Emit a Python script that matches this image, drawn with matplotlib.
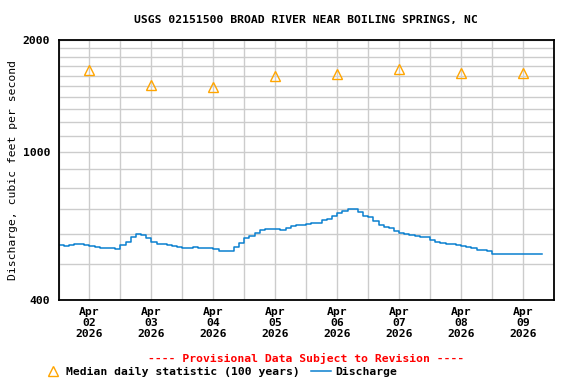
import matplotlib
matplotlib.use('Agg')
import matplotlib.pyplot as plt
from matplotlib.lines import Line2D

plt.rc('font', family='DejaVu Sans Mono', weight='bold', size=8.2)

# discharge, hours after Apr 02 00:00
hours = [0, 2, 4, 6, 8, 10, 12, 14, 16, 18, 20, 22,
         24, 26, 28, 30, 32, 34, 36, 38, 40, 42, 44, 46,
         48, 50, 52, 54, 56, 58, 60, 62, 64, 66, 68, 70,
         72, 74, 76, 78, 80, 82, 84, 86, 88, 90, 92, 94,
         96, 98, 100, 102, 104, 106, 108, 110, 112, 114, 116, 118,
         120, 122, 124, 126, 128, 130, 132, 134, 136, 138, 140, 142,
         144, 146, 148, 150, 152, 154, 156, 158, 160, 162, 164, 166,
         168, 170, 172, 174, 176, 178, 180, 182, 184, 186, 187.5]
flow = [563, 557, 563, 567, 567, 563, 558, 555, 553, 551, 553, 549,
        561, 573, 591, 600, 598, 585, 573, 567, 565, 561, 557, 555,
        553, 551, 555, 553, 553, 551, 549, 543, 543, 541, 555, 570,
        585, 594, 604, 616, 619, 622, 619, 616, 626, 631, 634, 635,
        639, 643, 643, 655, 659, 672, 684, 692, 701, 702, 688, 672,
        666, 650, 635, 628, 626, 613, 606, 600, 597, 594, 589, 589,
        579, 572, 570, 567, 567, 563, 557, 555, 551, 545, 545, 543,
        533, 531, 533, 533, 533, 533, 533, 533, 531, 531, 533]

# median daily statistic, one per day (plotted at noon)
median_days = [0.5, 1.5, 2.5, 3.5, 4.5, 5.5, 6.5, 7.5]
median_vals = [1660, 1510, 1490, 1600, 1620, 1670, 1625, 1625]

day_labels = ['Apr\n02\n2026', 'Apr\n03\n2026', 'Apr\n04\n2026', 'Apr\n05\n2026',
              'Apr\n06\n2026', 'Apr\n07\n2026', 'Apr\n08\n2026', 'Apr\n09\n2026']

fig = plt.figure(figsize=(5.76, 3.84), dpi=100)
ax = fig.add_axes([58.5/576, 1-300/384, 495.5/576, 260.5/384])

days = [h/24. for h in hours]
ax.plot(days, flow, color='#0a80d0', lw=1.1, drawstyle='steps-post')
ax.plot(median_days, median_vals, '^', ms=7, mfc='none', mec='orange', mew=1.0)

ax.set_yscale('log')
ax.set_ylim(400, 2000)
ax.set_xlim(0, 8)
ax.set_yticks([400, 1000, 2000])
ax.set_yticklabels(['400', '1000', '2000'])
ax.set_yticks(range(500, 2000, 100), minor=True)
ax.set_yticklabels([], minor=True)
ax.set_xticks(range(0, 9))
ax.set_xticklabels([])
ax.set_xticks(median_days, day_labels, minor=True)
for t in ax.get_xticklabels(minor=True):
    t.set_linespacing(1.1)
ax.tick_params(which='both', length=0)
ax.tick_params(axis='x', which='minor', pad=5)
ax.tick_params(axis='y', pad=6)
ax.grid(True, which='both', color='#cccccc', lw=1.0)
ax.set_axisbelow(True)
for s in ax.spines.values():
    s.set_linewidth(1.3)

ax.set_ylabel('Discharge, cubic feet per second', labelpad=3)

fig.text(306/576, 1-20/384, 'USGS 02151500 BROAD RIVER NEAR BOILING SPRINGS, NC',
         ha='center', va='center')
fig.text(306/576, 1-358/384, '---- Provisional Data Subject to Revision ----',
         ha='center', va='center', color='red')

handles = [Line2D([], [], ls='none', marker='^', ms=7, mfc='none', mec='orange', mew=1.0),
           Line2D([], [], color='#0a80d0', lw=1.1)]
fig.legend(handles, ['Median daily statistic (100 years)', 'Discharge'],
           loc='center left', bbox_to_anchor=(43/576, 1-372/384), ncol=2,
           frameon=False, borderpad=0, borderaxespad=0, handlelength=1.75,
           handletextpad=0.3, columnspacing=1.0)

fig.savefig('out.png', dpi=100)
